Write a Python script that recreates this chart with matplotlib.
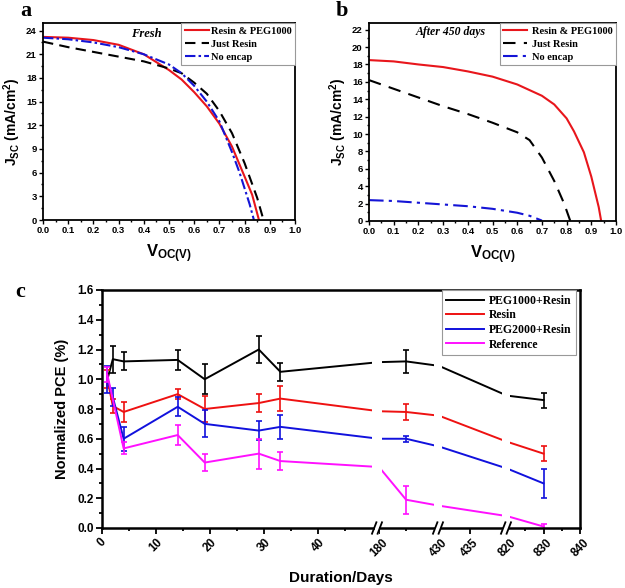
import numpy as np
import matplotlib
matplotlib.use('Agg')
import matplotlib.pyplot as plt
import matplotlib.transforms as mtransforms
from matplotlib.ticker import MultipleLocator, FixedLocator
from matplotlib.patches import Rectangle

plt.rcParams['font.family'] = ['Liberation Sans', 'DejaVu Sans']
plt.rcParams['font.weight'] = 'bold'
plt.rcParams['axes.labelweight'] = 'bold'
plt.rcParams['mathtext.fontset'] = 'custom'
plt.rcParams['mathtext.rm'] = 'Liberation Sans:bold'
plt.rcParams['mathtext.it'] = 'Liberation Sans:bold'
plt.rcParams['mathtext.bf'] = 'Liberation Sans:bold'

# ---------------- data: panel a (Fresh) ----------------
a_v_red = [0, 0.1, 0.2, 0.3, 0.4, 0.45, 0.5, 0.55, 0.6, 0.65, 0.7, 0.75, 0.8, 0.83, 0.857]
a_j_red = [23.2, 23.1, 22.8, 22.2, 21.0, 20.0, 19.0, 17.8, 16.2, 14.4, 12.2, 9.3, 5.5, 3.2, 0]
a_v_black = [0, 0.1, 0.2, 0.3, 0.4, 0.5, 0.55, 0.6, 0.65, 0.7, 0.75, 0.8, 0.85, 0.875]
a_j_black = [22.6, 21.9, 21.3, 20.7, 20.1, 19.2, 18.6, 17.4, 16.0, 13.8, 11.0, 7.2, 2.8, 0]
a_v_blue = [0, 0.1, 0.2, 0.3, 0.4, 0.5, 0.55, 0.6, 0.65, 0.7, 0.75, 0.78, 0.8, 0.82, 0.837]
a_j_blue = [23.1, 22.9, 22.5, 21.9, 21.0, 19.7, 18.6, 17.0, 15.0, 12.5, 8.6, 6.0, 4.0, 2.0, 0]

# ---------------- data: panel b (After 450 days) ----------------
b_v_red = [0, 0.1, 0.2, 0.3, 0.4, 0.5, 0.6, 0.7, 0.75, 0.8, 0.83, 0.87, 0.9, 0.93, 0.94]
b_j_red = [18.5, 18.35, 18.0, 17.7, 17.2, 16.6, 15.7, 14.4, 13.4, 11.8, 10.3, 7.9, 5.1, 1.6, 0]
b_v_black = [0, 0.1, 0.2, 0.3, 0.4, 0.5, 0.6, 0.65, 0.7, 0.75, 0.79, 0.815]
b_j_black = [16.2, 15.2, 14.2, 13.2, 12.3, 11.3, 10.2, 9.3, 7.3, 4.6, 2.0, 0]
b_v_blue = [0, 0.1, 0.2, 0.3, 0.4, 0.5, 0.6, 0.65, 0.7]
b_j_blue = [2.4, 2.3, 2.1, 1.9, 1.7, 1.4, 0.95, 0.6, 0.05]

iv_labels = ['Resin & PEG1000', 'Just Resin', 'No encap']

# ---------------- data: panel c (stability) ----------------
days = [1, 2, 4, 14, 19, 29, 33, 180, 185, 430, 820, 830]
peg1000 = [1.00, 1.135, 1.12, 1.13, 1.00, 1.20, 1.05, 1.115, 1.12, 1.09, 0.89, 0.86]
peg1000_err = [None, 0.09, 0.06, 0.07, 0.10, 0.09, 0.06, None, 0.075, None, None, 0.05]
resin = [1.00, 0.82, 0.78, 0.90, 0.80, 0.84, 0.87, 0.785, 0.78, 0.755, 0.58, 0.50]
resin_err = [0.06, 0.045, 0.07, 0.035, 0.09, 0.06, 0.085, None, 0.055, None, None, 0.05]
peg2000 = [1.00, 0.88, 0.60, 0.815, 0.70, 0.655, 0.68, 0.60, 0.60, 0.548, 0.40, 0.30]
peg2000_err = [0.09, 0.06, 0.08, 0.065, 0.09, 0.065, 0.08, None, 0.02, None, None, 0.10]
reference = [1.03, None, 0.535, 0.625, 0.44, 0.50, 0.45, 0.41, 0.19, 0.15, 0.08, 0.01]
reference_err = [0.05, None, 0.04, 0.07, 0.055, 0.10, 0.06, None, 0.095, None, None, 0.02]
c_labels = ['PEG1000+Resin', 'Resin', 'PEG2000+Resin', 'Reference']
c_major_ticks = [0, 10, 20, 30, 40, 180, 430, 435, 820, 830, 840]
c_minor_ticks = [5, 15, 25, 35, 45, 185, 825, 835]

# broken-axis layout (axis segments: 0-50.5 | 180-190.7 | 430-440.6 | 820-840)
SEG_DAYS = [-100, 0, 50.5, 180, 190.7, 430, 440.6, 820, 840, 1000]
SEG_POS = [-541, 0, 273, 277, 335, 337, 403, 405, 478, 1062]
BREAKS = [(50.5, 180), (190.7, 430), (440.6, 820)]


def fwd(x):
    return np.interp(x, SEG_DAYS, SEG_POS)


def inv(p):
    return np.interp(p, SEG_POS, SEG_DAYS)


RED = '#e8161c'
BLUE = '#1414d6'
MAG = '#ff10ff'
serif_bold = {'family': 'Liberation Serif', 'weight': 'bold'}

fig = plt.figure(figsize=(6.25, 5.88), dpi=100)
W, H = 625.0, 588.0


def ax_px(l, t, r, b):
    return fig.add_axes([l / W, 1 - b / H, (r - l) / W, (b - t) / H])


def style_iv(ax):
    for s in ax.spines.values():
        s.set_linewidth(1.3)
    ax.tick_params(which='both', direction='out', top=False, right=False, width=1.0, labelsize=6.8, pad=1.5)
    ax.tick_params(which='major', length=3)
    ax.tick_params(which='minor', length=1.6)
    ax.set_xlim(0, 1.0)
    ax.xaxis.set_major_locator(MultipleLocator(0.1))
    ax.xaxis.set_minor_locator(MultipleLocator(0.05))
    ax.xaxis.set_major_formatter(matplotlib.ticker.FormatStrFormatter('%.1f'))
    ax.set_xlabel(r'V$_{\mathrm{OC(V)}}$', fontsize=12, labelpad=5)
    ax.set_ylabel(r'J$_{\mathrm{SC}}$ (mA/cm$^{\mathrm{2}}$)', fontsize=10, labelpad=2)


# ---------------- panel a ----------------
axa = ax_px(43, 22.7, 295, 220)
axa.plot(a_v_red, a_j_red, color=RED, lw=1.5, label=iv_labels[0])
axa.plot(a_v_black, a_j_black, color='black', lw=1.5, ls=(0, (5, 3)), label=iv_labels[1])
axa.plot(a_v_blue, a_j_blue, color=BLUE, lw=1.5, ls=(0, (5, 1.5, 1.2, 1.5)), label=iv_labels[2])
style_iv(axa)
axa.set_ylim(0, 25)
axa.yaxis.set_major_locator(MultipleLocator(3))
axa.yaxis.set_minor_locator(MultipleLocator(1.5))
lg = axa.legend(loc='upper right', borderaxespad=0, fancybox=False, edgecolor='#999999', framealpha=1,
                prop={'family': 'Liberation Serif', 'weight': 'bold', 'size': 7.5},
                handlelength=2.3, handletextpad=0.2, labelspacing=0.35, borderpad=0.35)
lg.get_frame().set_linewidth(0.8)
axa.text(0.41, 0.945, 'Fresh', transform=axa.transAxes, ha='center', va='center',
         fontsize=9, family='Liberation Serif', weight='bold', style='italic')

# ---------------- panel b ----------------
axb = ax_px(369, 22.7, 616, 221)
axb.plot(b_v_red, b_j_red, color=RED, lw=1.5, label=iv_labels[0])
axb.plot(b_v_black, b_j_black, color='black', lw=1.5, ls=(0, (6, 4)), label=iv_labels[1])
axb.plot(b_v_blue, b_j_blue, color=BLUE, lw=1.5, ls=(0, (7, 2.5, 1.5, 2.5)), label=iv_labels[2])
style_iv(axb)
axb.set_ylim(0, 22.8)
axb.yaxis.set_major_locator(MultipleLocator(2))
axb.yaxis.set_minor_locator(MultipleLocator(1))
lg = axb.legend(loc='upper right', borderaxespad=0, fancybox=False, edgecolor='#999999', framealpha=1,
                prop={'family': 'Liberation Serif', 'weight': 'bold', 'size': 7.5},
                handlelength=2.3, handletextpad=0.4, labelspacing=0.35, borderpad=0.35)
lg.get_frame().set_linewidth(0.8)
axb.text(0.33, 0.952, 'After 450 days', transform=axb.transAxes, ha='center', va='center',
         fontsize=8.5, family='Liberation Serif', weight='bold', style='italic')

# ---------------- panel c ----------------
axc = ax_px(102, 290, 580, 528)
axc.set_xscale('function', functions=(fwd, inv))
axc.set_xlim(0, 840)
axc.set_ylim(0, 1.6)

series = [(peg1000, peg1000_err, 'black'), (resin, resin_err, '#ee1111'),
          (peg2000, peg2000_err, '#1111dd'), (reference, reference_err, MAG)]
d = np.array(days, dtype=float)
for (vals, errs, col), lab in zip(series, c_labels):
    v = np.array([np.nan if x is None else x for x in vals], dtype=float)
    e = np.array([np.nan if x is None else x for x in errs], dtype=float)
    m = ~np.isnan(v)
    axc.plot(d[m], v[m], color=col, lw=1.4, label=lab, zorder=2)
    m2 = m & ~np.isnan(e)
    axc.errorbar(d[m2], v[m2], yerr=e[m2], fmt='none', ecolor=col, elinewidth=1.2,
                 capsize=2.5, capthick=1.2, zorder=2)

# gaps in the lines at the axis breaks
blend = mtransforms.blended_transform_factory(axc.transData, axc.transAxes)
for lo, hi in BREAKS:
    lo_d = inv(fwd(lo) - 3)
    hi_d = inv(fwd(hi) + 3)
    axc.axvspan(lo_d, hi_d, ymin=0.006, ymax=0.994, color='white', zorder=2.5, lw=0)
    c = (fwd(lo) + fwd(hi)) / 2.0
    axc.add_patch(Rectangle((inv(c - 2.5), -0.03), inv(c + 2.5) - inv(c - 2.5), 0.06,
                            transform=blend, facecolor='white', edgecolor='none',
                            clip_on=False, zorder=5))
    for off in (-2.8, 2.8):
        axc.plot([inv(c + off - 2.2), inv(c + off + 2.2)], [-0.024, 0.024], transform=blend,
                 color='black', lw=1.3, clip_on=False, zorder=6)

for s in axc.spines.values():
    s.set_linewidth(1.8)
axc.xaxis.set_major_locator(FixedLocator(c_major_ticks))
axc.xaxis.set_minor_locator(FixedLocator(c_minor_ticks))
axc.xaxis.set_major_formatter(matplotlib.ticker.FuncFormatter(lambda x, p: '%d' % round(x)))
axc.yaxis.set_major_locator(MultipleLocator(0.2))
axc.yaxis.set_minor_locator(MultipleLocator(0.1))
axc.yaxis.set_major_formatter(matplotlib.ticker.FormatStrFormatter('%.1f'))
axc.tick_params(which='both', direction='out', top=False, right=False, width=1.3, labelsize=8.5, pad=2)
axc.tick_params(which='major', length=4)
axc.tick_params(which='minor', length=2.2)
for t in axc.get_xticklabels():
    t.set_rotation(45)
axc.set_ylabel('Normalized PCE (%)', fontsize=10.5, labelpad=6)
axc.set_xlabel('Duration/Days', fontsize=11, labelpad=9)
lg = axc.legend(loc='upper right', bbox_to_anchor=(0.992, 1.0), borderaxespad=0, fancybox=False,
                edgecolor='#999999', framealpha=1,
                prop={'family': 'Liberation Serif', 'weight': 'bold', 'size': 8.5},
                handlelength=3.2, handletextpad=0.4, labelspacing=0.22, borderpad=0.4)
lg.get_frame().set_linewidth(0.8)
lg.set_zorder(7)

# panel letters
fig.text(26 / W, 1 - 11 / H, 'a', ha='center', va='center', fontsize=16, **serif_bold)
fig.text(342 / W, 1 - 11 / H, 'b', ha='center', va='center', fontsize=16, **serif_bold)
fig.text(20 / W, 1 - 292 / H, 'c', ha='center', va='center', fontsize=16, **serif_bold)

fig.savefig('out.png', dpi=100)
